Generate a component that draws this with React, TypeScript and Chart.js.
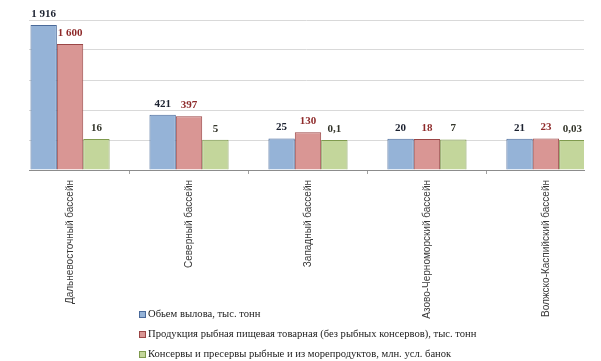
import React, { useEffect, useRef } from "react";
import { Chart, registerables } from "chart.js";

Chart.register(...registerables);

const categories = [
  "Дальневосточный бассейн",
  "Северный бассейн",
  "Западный бассейн",
  "Азово-Черноморский бассейн",
  "Волжско-Каспийский бассейн",
];
const catchVolume = [1916, 421, 25, 20, 21];
const fishProducts = [1600, 397, 130, 18, 23];
const cannedFish = [16, 5, 0.1, 7, 0.03];

const seriesLabels = [
  "Обьем вылова, тыс. тонн",
  "Продукция рыбная пищевая товарная (без рыбных консервов), тыс. тонн",
  "Консервы и пресервы рыбные и из морепродуктов, млн. усл. банок",
];

const yMin = -500;
const yMax = 2000;
const yStep = 500;

const fills = ["#95b3d7", "#d99694", "#c3d69b"];
const borders = ["#4a6a9a", "#9a4646", "#7f9a4e"];
const labelColors = ["#1c2230", "#8e2a2a", "#33352a"];

function fmt(v: number): string {
  if (v >= 1000) {
    const th = Math.floor(v / 1000);
    const rest = String(v % 1000).padStart(3, "0");
    return th + " " + rest;
  }
  return String(v).replace(".", ",");
}

const barLabels = {
  id: "barLabels",
  afterDatasetsDraw(chart: any) {
    const ctx = chart.ctx;
    chart.data.datasets.forEach((ds: any, di: number) => {
      const meta = chart.getDatasetMeta(di);
      meta.data.forEach((bar: any, i: number) => {
        const v = ds.data[i].y;
        ctx.save();
        ctx.font = 'bold 11px "Liberation Serif", "Times New Roman", serif';
        ctx.fillStyle = labelColors[di];
        ctx.textAlign = "center";
        ctx.textBaseline = "middle";
        ctx.fillText(fmt(v), bar.x, bar.y - 11);
        ctx.restore();
      });
    });
  },
};

export default function App() {
  const ref = useRef<HTMLCanvasElement | null>(null);

  useEffect(() => {
    if (!ref.current) return;
    const series = [catchVolume, fishProducts, cannedFish];
    const chart = new Chart(ref.current, {
      type: "bar",
      data: {
        datasets: series.map((s, si) => ({
          label: seriesLabels[si],
          data: s.map((v, i) => ({ x: i, y: v })),
          backgroundColor: fills[si],
          borderColor: borders[si],
          borderWidth: 1,
          base: yMin,
          categoryPercentage: 0.665,
          barPercentage: 1.0,
        })),
      },
      options: {
        animation: false,
        responsive: false,
        layout: { padding: { left: 29, right: 17, top: 20, bottom: 0 } },
        plugins: {
          legend: { display: false },
          tooltip: { enabled: false },
        },
        scales: {
          x: {
            type: "linear",
            offset: false,
            min: -0.345,
            max: 4.32,
            afterBuildTicks: (scale: any) => {
              scale.ticks = categories.map((_, i) => ({ value: i }));
            },
            afterFit: (scale: any) => {
              scale.height = 191;
            },
            ticks: {
              callback: (v: any) => categories[v as number] ?? "",
              minRotation: 90,
              maxRotation: 90,
              autoSkip: false,
              padding: 6,
              color: "#3a3a3a",
              font: { family: '"Liberation Sans", Arial, sans-serif', size: 10 },
            },
            grid: {
              offset: true,
              drawOnChartArea: false,
              tickLength: 4,
              color: "#a0a0a0",
            },
            border: { color: "#8c8c8c" },
          },
          y: {
            min: yMin,
            max: yMax,
            ticks: { stepSize: yStep, display: false },
            grid: { color: "#d9d9d9", drawTicks: false },
            border: { display: false },
          },
        },
      },
      plugins: [barLabels],
    } as any);
    return () => chart.destroy();
  }, []);

  return (
    <div
      style={{
        position: "fixed",
        left: 0,
        top: 0,
        width: 601,
        height: 361,
        background: "#ffffff",
        overflow: "hidden",
      }}
    >
      <canvas ref={ref} width={601} height={361} style={{ position: "absolute", left: 0, top: 0 }} />
      <div
        style={{
          position: "absolute",
          left: 139,
          top: 304,
          fontFamily: '"Liberation Serif", "Times New Roman", serif',
          fontSize: 10.6,
          color: "#222222",
          lineHeight: "20px",
          whiteSpace: "nowrap",
        }}
      >
        {seriesLabels.map((lab, i) => (
          <div key={i} style={{ display: "flex", alignItems: "center", height: 20 }}>
            <span
              style={{
                display: "inline-block",
                width: 5,
                height: 5,
                background: fills[i],
                border: `1px solid ${borders[i]}`,
                marginRight: 2,
              }}
            />
            <span>{lab}</span>
          </div>
        ))}
      </div>
    </div>
  );
}
